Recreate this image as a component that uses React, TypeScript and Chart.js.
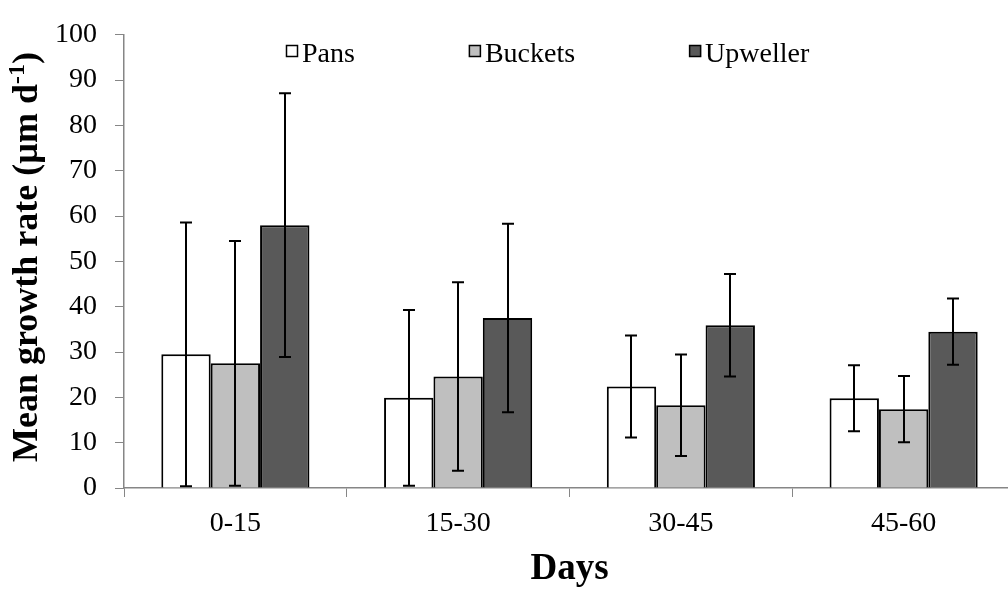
import React, { useEffect, useRef } from "react";
import { Chart, registerables } from "chart.js";

Chart.register(...registerables);

const categories = ["0-15", "15-30", "30-45", "45-60"];
const seriesNames = ["Pans", "Buckets", "Upweller"];
const pansValues = [29.5, 19.9, 22.4, 19.8];
const pansErrors = [29.1, 19.4, 11.25, 7.3];
const bucketsValues = [27.5, 24.6, 18.25, 17.4];
const bucketsErrors = [27.0, 20.8, 11.2, 7.3];
const upwellerValues = [58.0, 37.5, 35.9, 34.5];
const upwellerErrors = [29.1, 20.8, 11.3, 7.3];
const seriesColors = ["#ffffff", "#bfbfbf", "#595959"];
const yMin = 0;
const yMax = 100;
const yStep = 10;
const yTitleMain = "Mean growth rate (µm d";
const yTitleSup = "-1";
const yTitleEnd = ")";
const xTitle = "Days";

const FONT = "'Liberation Serif', 'Times New Roman', serif";
const AXIS_GRAY = "#868686";

const errorsBySeries = [pansErrors, bucketsErrors, upwellerErrors];

const errorBarPlugin = {
  id: "errorBars",
  afterDatasetsDraw(chart: any) {
    const ctx = chart.ctx;
    const yScale = chart.scales.y;
    ctx.save();
    ctx.strokeStyle = "#000";
    ctx.lineWidth = 2;
    chart.data.datasets.forEach((ds: any, di: number) => {
      const meta = chart.getDatasetMeta(di);
      meta.data.forEach((bar: any, i: number) => {
        const v = ds.data[i];
        const e = errorsBySeries[di][i];
        const x = Math.round(bar.x);
        const yt = yScale.getPixelForValue(v + e);
        const yb = yScale.getPixelForValue(v - e);
        const cap = 6;
        ctx.beginPath();
        ctx.moveTo(x, yt);
        ctx.lineTo(x, yb);
        ctx.moveTo(x - cap, yt);
        ctx.lineTo(x + cap, yt);
        ctx.moveTo(x - cap, yb);
        ctx.lineTo(x + cap, yb);
        ctx.stroke();
      });
    });
    ctx.restore();
  },
};

const legendAndTitlesPlugin = {
  id: "legendAndTitles",
  afterDraw(chart: any) {
    const ctx = chart.ctx;
    const area = chart.chartArea;
    ctx.save();
    // legend
    ctx.font = `28px ${FONT}`;
    ctx.textBaseline = "alphabetic";
    ctx.textAlign = "left";
    const box = 12;
    const gapText = 4;
    const gapItem = 114;
    let x = area.left + 162;
    const boxTop = 45;
    const baseline = 62;
    chart.data.datasets.forEach((ds: any) => {
      ctx.fillStyle = ds.backgroundColor;
      ctx.fillRect(x, boxTop, box, box);
      ctx.strokeStyle = "#000";
      ctx.lineWidth = 1.5;
      ctx.strokeRect(x + 0.5, boxTop + 0.5, box - 1, box - 1);
      ctx.fillStyle = "#000";
      ctx.fillText(ds.label, x + box + gapText, baseline);
      x += box + gapText + ctx.measureText(ds.label).width + gapItem;
    });

    // x title
    ctx.font = `bold 37px ${FONT}`;
    ctx.textAlign = "center";
    ctx.fillText(xTitle, (area.left + area.right) / 2, 579);

    // y title with superscript
    const mainFont = `bold 36px ${FONT}`;
    const supFont = `bold 24px ${FONT}`;
    ctx.font = mainFont;
    const w1 = ctx.measureText(yTitleMain).width;
    const w3 = ctx.measureText(yTitleEnd).width;
    ctx.font = supFont;
    const w2 = ctx.measureText(yTitleSup).width;
    const total = w1 + w2 + w3;
    ctx.translate(37, 257);
    ctx.rotate(-Math.PI / 2);
    ctx.textAlign = "left";
    let tx = -total / 2;
    ctx.font = mainFont;
    ctx.fillText(yTitleMain, tx, 0);
    tx += w1;
    ctx.font = supFont;
    ctx.fillText(yTitleSup, tx, -13);
    tx += w2;
    ctx.font = mainFont;
    ctx.fillText(yTitleEnd, tx, 0);
    ctx.restore();
  },
};

export default function App() {
  const canvasRef = useRef<HTMLCanvasElement | null>(null);

  useEffect(() => {
    if (!canvasRef.current) return;
    const valuesBySeries = [pansValues, bucketsValues, upwellerValues];
    const chart = new Chart(canvasRef.current, {
      type: "bar",
      data: {
        labels: categories,
        datasets: seriesNames.map((name, i) => ({
          label: name,
          data: valuesBySeries[i],
          backgroundColor: seriesColors[i],
          borderColor: "#000",
          borderWidth: 2,
          categoryPercentage: 0.665,
          barPercentage: 1.0,
        })),
      },
      options: {
        responsive: false,
        animation: false,
        layout: { padding: { top: 22, right: 1, left: 0, bottom: 0 } },
        plugins: {
          legend: { display: false },
          tooltip: { enabled: false },
        },
        scales: {
          x: {
            grid: {
              offset: true,
              drawOnChartArea: false,
              drawTicks: true,
              tickLength: 9,
              color: AXIS_GRAY,
              lineWidth: 1,
            },
            border: { display: true, color: AXIS_GRAY, width: 1.5 },
            ticks: {
              color: "#000",
              font: { family: FONT, size: 28 },
              padding: 10,
              maxRotation: 0,
            },
            afterFit(scale: any) {
              scale.height = 106;
            },
          },
          y: {
            min: yMin,
            max: yMax,
            grid: {
              drawOnChartArea: false,
              drawTicks: true,
              tickLength: 9,
              color: AXIS_GRAY,
              lineWidth: 1,
            },
            border: { display: true, color: AXIS_GRAY, width: 1.5 },
            ticks: {
              stepSize: yStep,
              color: "#000",
              font: { family: FONT, size: 28 },
              padding: 18,
            },
            afterFit(scale: any) {
              scale.width = 124;
            },
          },
        },
      },
      plugins: [errorBarPlugin, legendAndTitlesPlugin],
    });
    return () => chart.destroy();
  }, []);

  return (
    <div
      style={{
        position: "fixed",
        left: 0,
        top: 0,
        width: 1008,
        height: 594,
        overflow: "hidden",
        background: "#fff",
      }}
    >
      <canvas
        ref={canvasRef}
        width={1016}
        height={594}
        style={{ width: 1016, height: 594, display: "block" }}
      />
    </div>
  );
}
